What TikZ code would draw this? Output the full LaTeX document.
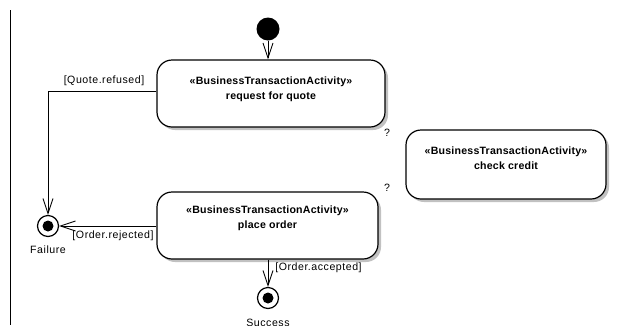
\documentclass[tikz,border=0pt]{standalone}
\usepackage{fontspec}
\setmainfont{Liberation Sans}
\newfontfamily\lblfont[LetterSpace=5]{Liberation Sans}
\newfontfamily\boldfont[LetterSpace=2]{Liberation Sans Bold}
\usetikzlibrary{arrows.meta,shadows,calc}
\tikzset{
  actbox/.style={draw=black, line width=1.2pt, rounded corners=15pt, fill=white,
    drop shadow={shadow xshift=3pt, shadow yshift=-3pt, fill=gray!60, opacity=0.8}},
  boxtext/.style={align=center, inner sep=0pt, font=\boldfont\fontsize{10.6}{15}\selectfont},
  lbl/.style={inner sep=0pt, font=\lblfont\fontsize{10.6}{13}\selectfont},
  flow/.style={draw=black, line width=0.9pt, -{Straight Barb[length=15pt,width=10pt,line width=0.9pt]}},
  startnode/.style={circle, fill=black, minimum size=23pt, inner sep=0pt},
  endring/.style={circle, draw=black, line width=1.2pt, fill=white, minimum size=21pt, inner sep=0pt},
  enddot/.style={circle, fill=black, minimum size=11pt, inner sep=0pt},
}
\begin{document}
\begin{tikzpicture}[x=1pt, y=-1pt]
\useasboundingbox (0,0) rectangle (621,325);
\fill[white] (0,0) rectangle (621,325);
% frame line
\coordinate (ftop) at (10,10);
\coordinate (fbot) at (10,325);
\draw[line width=1pt] (ftop) -- (fbot);

% boxes
\node[actbox, minimum width=228pt, minimum height=67pt] (rfq) at (271,93.5) {};
\node[boxtext] (rfqt) at (271,89) {«BusinessTransactionActivity»\\request for quote};
\node[actbox, minimum width=200pt, minimum height=69pt] (cc) at (506,164.5) {};
\node[boxtext] (cct) at (506,158) {«BusinessTransactionActivity»\\check credit};
\node[actbox, minimum width=221pt, minimum height=67pt] (po) at (267.5,225.5) {};
\node[boxtext] (pot) at (267.5,218.5) {«BusinessTransactionActivity»\\place order};

% question marks
\node[lbl] (q1) at (387,133) {?};
\node[lbl] (q2) at (387,188) {?};

% initial node
\node[startnode] (init) at (268,29) {};

% final nodes
\node[endring] (fail) at (48,226) {};
\node[enddot] (faildot) at (48,226) {};
\node[lbl] (failt) at (48,250) {Failure};
\node[endring] (succ) at (268,298) {};
\node[enddot] (succdot) at (268,298) {};
\node[lbl] (succt) at (268,323) {Success};

% connectors
\draw[flow] (init.south) -- (init.south |- rfq.north);
\draw[flow] ([yshift=2.5pt]rfq.west) -| (fail.north);
\draw[flow] (po.west |- fail.east) -- (fail.east);
\draw[flow] (succ.north |- po.south) -- (succ.north);

% guards
\node[lbl] (g1) at (104,81) {[Quote.refused]};
\node[lbl] (g2) at (113,236) {[Order.rejected]};
\node[lbl] (g3) at (318.5,268) {[Order.accepted]};
\end{tikzpicture}
\end{document}
